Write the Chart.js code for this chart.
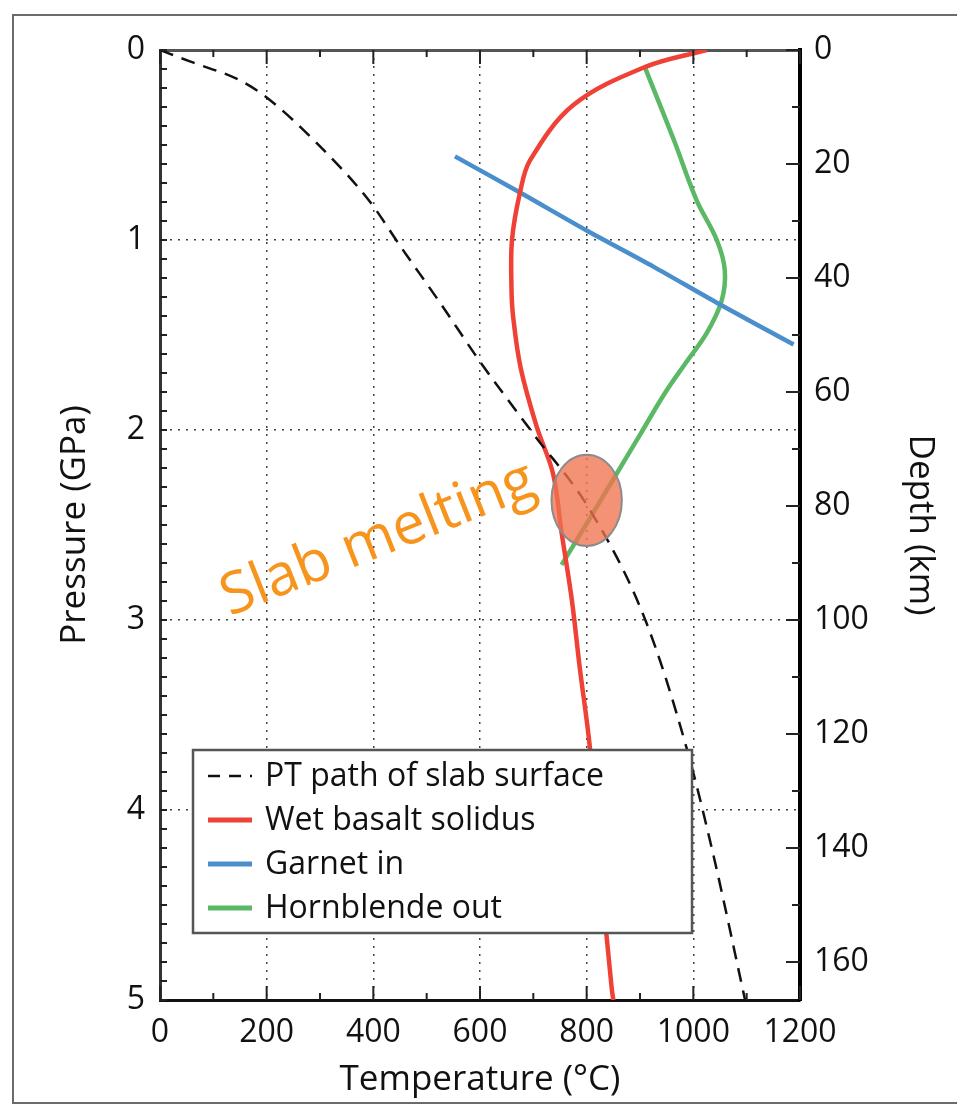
<!DOCTYPE html>
<html>
<head>
<meta charset="utf-8">
<script src="https://cdn.jsdelivr.net/npm/chart.js@4.4.1/dist/chart.umd.min.js"></script>
<style>
  html, body { margin: 0; padding: 0; background: #fff; }
  #wrap { position: relative; width: 957px; height: 1104px; overflow: hidden; }
  #frame { position: absolute; left: 12px; top: 14px; width: 980px; height: 1086px; border: 2px solid #6b6b6b; border-right: none; }
  canvas { position: absolute; left: 0; top: 0; }
</style>
</head>
<body>
<div id="wrap"><div id="frame"></div><canvas id="chart" width="957" height="1104"></canvas></div>
<script>
// PT path of slab surface
const slabT = [0, 56, 150, 200, 294, 394, 450, 525, 600, 700, 806, 910, 987, 1037, 1097];
const slabP = [0, 0.06, 0.16, 0.25, 0.49, 0.80, 1.03, 1.33, 1.64, 2.02, 2.42, 3.0, 3.67, 4.23, 5.0];

// wet basalt solidus
const solidusT = [1025, 909, 775, 694, 675, 660, 659, 662, 676, 706, 737, 753, 772, 787, 806, 822, 847, 850];
const solidusP = [0.0, 0.09, 0.29, 0.58, 0.75, 1.0, 1.25, 1.4, 1.67, 1.98, 2.23, 2.54, 2.89, 3.25, 3.67, 4.21, 4.94, 5.0];

// garnet in
const garnetT = [553, 675, 800, 925, 1044, 1188];
const garnetP = [0.56, 0.75, 0.95, 1.14, 1.33, 1.55];

// hornblende out
const hornT = [909, 963, 1006, 1044, 1059, 1053, 1025, 985, 948, 901, 852, 807, 753];
const hornP = [0.09, 0.47, 0.79, 1.0, 1.16, 1.32, 1.49, 1.65, 1.80, 2.02, 2.25, 2.46, 2.71];

// slab melting zone (centre T, centre P) and half widths (°C, GPa)
const meltCentre = [800, 2.37];
const meltRadius = [66, 0.24];
const meltLabel = 'Slab melting';
const meltLabelAt = [131, 2.98];

const kmPerGPa = 100 / 3;
const tempTicks = [0, 200, 400, 600, 800, 1000, 1200];

const FONT = '"Open Sans", "Noto Sans", sans-serif';

function pts(xs, ys) {
  return xs.map((x, i) => ({ x: x, y: ys[i] }));
}

const extras = {
  id: 'extras',
  afterDatasetsDraw(chart) {
    const ctx = chart.ctx;
    const sx = chart.scales.x, sy = chart.scales.y, sy2 = chart.scales.y2;
    const a = chart.chartArea;

    // inward ticks
    ctx.save();
    ctx.strokeStyle = '#222';
    ctx.lineWidth = 2;
    ctx.beginPath();
    for (let t = 0; t <= 1200; t += 100) {
      const px = sx.getPixelForValue(t);
      const len = t % 200 === 0 ? 14 : 7;
      ctx.moveTo(px, a.top); ctx.lineTo(px, a.top + len);
      ctx.moveTo(px, a.bottom); ctx.lineTo(px, a.bottom - len);
    }
    for (let i = 0; i <= 50; i++) {
      const py = sy.getPixelForValue(i / 10);
      ctx.moveTo(a.left, py); ctx.lineTo(a.left + 7, py);
    }
    for (let km = 0; km <= 160; km += 10) {
      const py = sy2.getPixelForValue(km);
      const len = km % 20 === 0 ? 14 : 8;
      ctx.moveTo(a.right, py); ctx.lineTo(a.right - len, py);
    }
    ctx.stroke();
    ctx.restore();

    // melting ellipse
    const cx = sx.getPixelForValue(meltCentre[0]);
    const cy = sy.getPixelForValue(meltCentre[1]);
    const rx = Math.abs(sx.getPixelForValue(meltCentre[0] + meltRadius[0]) - cx);
    const ry = Math.abs(sy.getPixelForValue(meltCentre[1] + meltRadius[1]) - cy);
    ctx.save();
    ctx.beginPath();
    ctx.ellipse(cx, cy, rx, ry, 0, 0, Math.PI * 2);
    ctx.fillStyle = 'rgba(240, 115, 78, 0.78)';
    ctx.fill();
    ctx.strokeStyle = '#8c8c8c';
    ctx.lineWidth = 2;
    ctx.stroke();
    ctx.restore();

    // label
    ctx.save();
    ctx.translate(sx.getPixelForValue(meltLabelAt[0]), sy.getPixelForValue(meltLabelAt[1]));
    ctx.rotate(-21.6 * Math.PI / 180);
    ctx.font = '58px ' + FONT;
    ctx.fillStyle = '#f7941d';
    ctx.textBaseline = 'alphabetic';
    ctx.fillText(meltLabel, 0, 0);
    ctx.restore();
  },
  afterDraw(chart) {
    // legend box inside the plot
    const ctx = chart.ctx;
    const box = { x: 193, y: 750, w: 499, h: 183 };
    ctx.save();
    ctx.fillStyle = '#fff';
    ctx.fillRect(box.x, box.y, box.w, box.h);
    ctx.strokeStyle = '#555';
    ctx.lineWidth = 2.5;
    ctx.strokeRect(box.x, box.y, box.w, box.h);
    ctx.font = '32px ' + FONT;
    ctx.textBaseline = 'middle';
    chart.data.datasets.forEach((ds, i) => {
      const yy = box.y + 26 + i * 44;
      ctx.beginPath();
      ctx.strokeStyle = ds.borderColor;
      ctx.lineWidth = ds.borderDash ? 2.5 : 5;
      ctx.setLineDash(ds.borderDash ? [12, 9] : []);
      ctx.moveTo(208, yy); ctx.lineTo(252, yy);
      ctx.stroke();
      ctx.setLineDash([]);
      ctx.fillStyle = '#111';
      ctx.fillText(ds.label, 265, yy + 1);
    });
    ctx.restore();
  }
};

const tickFont = { family: FONT, size: 32 };
const titleFont = { family: FONT, size: 35 };
const plain = v => String(v);

new Chart(document.getElementById('chart'), {
  type: 'scatter',
  data: {
    datasets: [
      { label: 'PT path of slab surface', data: pts(slabT, slabP), borderColor: '#111', borderWidth: 2.5, borderDash: [14, 9], cubicInterpolationMode: 'monotone' },
      { label: 'Wet basalt solidus', data: pts(solidusT, solidusP), borderColor: '#ef4136', borderWidth: 4.5, tension: 0.35 },
      { label: 'Garnet in', data: pts(garnetT, garnetP), borderColor: '#4a8fcb', borderWidth: 4.5, tension: 0.3 },
      { label: 'Hornblende out', data: pts(hornT, hornP), borderColor: '#5bb864', borderWidth: 4.5, tension: 0.35 }
    ].map(d => Object.assign(d, { showLine: true, pointRadius: 0, fill: false, xAxisID: 'x', yAxisID: 'y' }))
  },
  options: {
    responsive: false,
    animation: false,
    layout: { padding: 0 },
    plugins: { legend: { display: false }, tooltip: { enabled: false } },
    scales: {
      x: {
        type: 'linear', position: 'bottom', min: 0, max: 1200,
        afterBuildTicks: s => { s.ticks = tempTicks.map(v => ({ value: v })); },
        afterFit: s => { s.height = 104; },
        ticks: { font: tickFont, color: '#111', padding: 14, maxRotation: 0, callback: plain },
        grid: { drawTicks: false, lineWidth: 1.5, color: c => (c.tick && (c.tick.value === 0 || c.tick.value === 1200)) ? 'rgba(0,0,0,0)' : '#444' },
        border: { color: '#111', width: 3, dash: [2, 6] },
        title: { display: true, text: 'Temperature (°C)', font: titleFont, color: '#111', padding: { top: 0, bottom: 3 } }
      },
      x2: {
        type: 'linear', position: 'top', min: 0, max: 1200,
        afterFit: s => { s.height = 50; },
        ticks: { display: false },
        grid: { display: false, drawTicks: false },
        border: { color: '#555', width: 3 }
      },
      y: {
        type: 'linear', position: 'left', reverse: true, min: 0, max: 5,
        afterFit: s => { s.width = 160; },
        ticks: { stepSize: 1, font: tickFont, color: '#111', padding: 15, callback: plain },
        grid: { drawTicks: false, lineWidth: 1.5, color: c => (c.tick && (c.tick.value === 0 || c.tick.value === 5)) ? 'rgba(0,0,0,0)' : '#444' },
        border: { color: '#333', width: 3, dash: [2, 6] },
        title: { display: true, text: 'Pressure (GPa)', font: titleFont, color: '#111', padding: { top: 54, bottom: 0 } }
      },
      y2: {
        type: 'linear', position: 'right', reverse: true, min: 0, max: 5 * kmPerGPa,
        afterFit: s => { s.width = 157; },
        ticks: { stepSize: 20, includeBounds: false, font: tickFont, color: '#111', padding: 14, callback: plain },
        grid: { display: false, drawTicks: false },
        border: { color: '#000', width: 4 },
        title: { display: true, text: 'Depth (km)', font: titleFont, color: '#111', padding: { top: 16, bottom: 0 } }
      }
    }
  },
  plugins: [extras]
});
</script>
</body>
</html>
